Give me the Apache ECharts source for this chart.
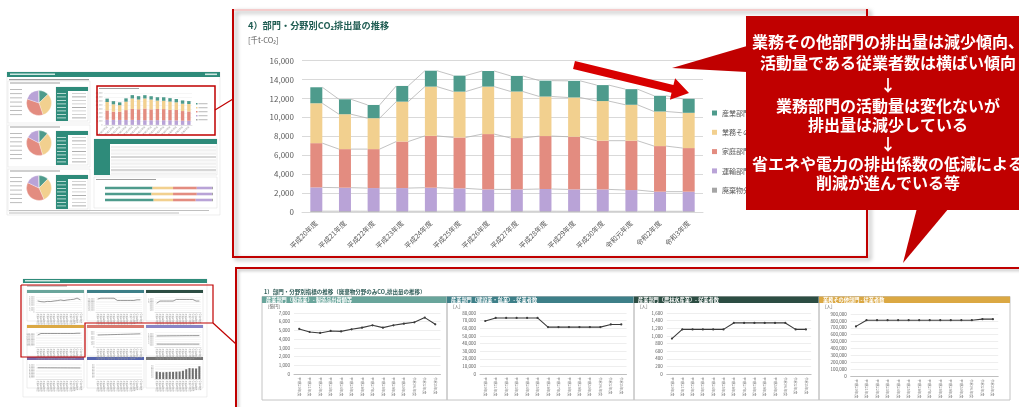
<!DOCTYPE html>
<html lang="ja">
<head>
<meta charset="utf-8">
<title>部門・分野別CO₂排出量の推移</title>
<script src="https://cdn.jsdelivr.net/npm/echarts@6.0.0/dist/echarts.min.js"></script>
<style>
html,body{margin:0;padding:0;background:#fff;}
#chart{width:1019px;height:407px;}
</style>
</head>
<body>
<div id="chart"></div>
<script>
const FONT = '"Noto Sans CJK JP", "Noto Sans", sans-serif';

const fiscalYears = ['平成20年度','平成21年度','平成22年度','平成23年度','平成24年度','平成25年度','平成26年度',
  '平成27年度','平成28年度','平成29年度','平成30年度','令和元年度','令和2年度','令和3年度'];

// CO2 emissions by sector [千t-CO2]
const wasteCO2       = [85, 85, 80, 80, 80, 80, 80, 80, 80, 75, 75, 75, 75, 75];
const transportCO2   = [2515, 2485, 2450, 2450, 2490, 2420, 2310, 2310, 2350, 2315, 2315, 2245, 2075, 2075];
const residentialCO2 = [4680, 4080, 4120, 4920, 5480, 5380, 5850, 5430, 5600, 5570, 5150, 5220, 4820, 4610];
const commercialCO2  = [4220, 3690, 3270, 4220, 5210, 4850, 5020, 4920, 4180, 4150, 4190, 3800, 3660, 3730];
const industrialCO2  = [1690, 1580, 1400, 1660, 1680, 1690, 1650, 1650, 1680, 1760, 1690, 1650, 1660, 1480];
const legendOrder = ['産業部門', '業務その他部門', '家庭部門', '運輸部門', '廃棄物分野'];

// activity indicators
const manufacturingShipments = [5170, 4820, 4710, 4940, 4890, 5130, 5320, 5590, 5320, 5590, 5780, 5930, 6470, 5700]; // 億円
const constructionWorkers = [69500, 73500, 73500, 73500, 73500, 73500, 61500, 61500, 61500, 61500, 61500, 61500, 65000, 65000];
const agricultureWorkers  = [930, 1170, 1170, 1170, 1170, 1170, 1340, 1340, 1340, 1340, 1340, 1340, 1170, 1170];
const commercialWorkers   = [720000, 810000, 810000, 810000, 810000, 810000, 810000, 810000, 810000, 810000, 810000, 810000, 825000, 825000];
const households      = [480, 483, 487, 490, 494, 497, 501, 505, 509, 512, 516, 520, 524, 528];
const passengerCars   = [2950, 2960, 2970, 2980, 2990, 3000, 3000, 3010, 3020, 3030, 3030, 3040, 3040, 3050];
const freightVehicles = [780, 770, 760, 760, 760, 760, 760, 760, 760, 765, 765, 765, 760, 760];
const railPassengers  = [7500, 7500, 7480, 7470, 7460, 7450, 7440, 7430, 7420, 7410, 7400, 7390, 7380, 7370];
const wasteIndicator  = [39, 37, 36, 37, 38, 38, 39, 40, 44, 52, 58, 57, 56, 68];

// sector composition rows [%]
const shareRowLabels    = ['平成20年度', '平成25年度', '令和3年度'];
const shareIndustrial   = [44, 43, 45];
const shareCommercial   = [19, 20, 18];
const shareResidential  = [22, 22, 21];
const shareTransport    = [14, 14, 15];
const shareWaste        = [1, 1, 1];
const pieYearIndex      = [0, 5, 13];

const fmt = v => v.toLocaleString('en-US');

const sectors = [
  { name: '廃棄物分野',     data: wasteCO2,       color: '#a5a5a5' },
  { name: '運輸部門',       data: transportCO2,   color: '#b9a3d7' },
  { name: '家庭部門',       data: residentialCO2, color: '#e38c80' },
  { name: '業務その他部門', data: commercialCO2,  color: '#f2d08f' },
  { name: '産業部門',       data: industrialCO2,  color: '#4e9b8c' }
];

const grids = [], xAxes = [], yAxes = [], series = [], decor = [];

function addGrid(grid, xAxis, yAxis) {
  const gi = grids.length;
  grids.push(Object.assign({ containLabel: false, outerBoundsMode: 'none' }, grid));
  xAxes.push(Object.assign({ gridIndex: gi }, xAxis));
  yAxes.push(Object.assign({ gridIndex: gi }, yAxis));
  return gi;
}
const rect = (x, y, w, h, style, z = 0) =>
  decor.push({ type: 'rect', shape: { x, y, width: w, height: h }, style, z, silent: true });
const text = (x, y, t, style, z = 1) =>
  decor.push({ type: 'text', x, y, style: Object.assign({ text: t, fontFamily: FONT, align: 'left', verticalAlign: 'middle' }, style), z, silent: true });
const poly = (points, style, z = 0) =>
  decor.push({ type: 'polygon', shape: { points }, style, z, silent: true });
const pline = (points, style, z = 0) =>
  decor.push({ type: 'polyline', shape: { points }, style, z, silent: true });

/* ---------- main stacked bar chart ---------- */
const gMain = addGrid(
  { left: 302, top: 60.7, width: 401, height: 151.3 },
  { type: 'category', data: fiscalYears,
    axisLine: { lineStyle: { color: '#d9d9d9' } }, axisTick: { show: false },
    axisLabel: { interval: 0, rotate: 45, fontSize: 7, color: '#595959', margin: 10, fontFamily: FONT } },
  { type: 'value', min: 0, max: 16000, interval: 2000,
    axisLine: { show: false }, axisTick: { show: false },
    splitLine: { lineStyle: { color: '#d9d9d9' } },
    axisLabel: { fontSize: 8, color: '#595959', margin: 8, formatter: fmt } }
);
sectors.forEach(s => series.push({
  type: 'bar', name: s.name, stack: 'co2', data: s.data, barWidth: 12,
  itemStyle: { color: s.color }, xAxisIndex: gMain, yAxisIndex: gMain, silent: true
}));

// series lines joining the top of each segment between neighbouring bars
function seriesLine(params, api) {
  const i = api.value(0);
  const a = api.coord([i, api.value(1)]);
  const b = api.coord([i + 1, api.value(2)]);
  const half = api.size([1, 0])[0] * 0.21;
  return { type: 'line', shape: { x1: a[0] + half, y1: a[1], x2: b[0] - half, y2: b[1] },
           style: { stroke: '#b3b3b3', lineWidth: 0.8 } };
}
let running = fiscalYears.map(() => 0);
sectors.forEach(s => {
  running = running.map((v, i) => v + s.data[i]);
  const tops = running.slice();
  const segs = tops.slice(0, -1).map((v, i) => [i, v, tops[i + 1]]);
  series.push({ type: 'custom', name: 'series-line', renderItem: seriesLine, data: segs,
    encode: { x: 0, y: [1, 2] }, xAxisIndex: gMain, yAxisIndex: gMain, silent: true, z: 3 });
});

/* ---------- activity indicator panels ---------- */
const panelDefs = [
  { title: '産業部門（製造業）- 製造品出荷額等', unit: '[億円]', data: manufacturingShipments, max: 7000, step: 1000, head: '#69a59b', box: [262, 447], plot: [294, 146.5], top: 313, h: 61 },
  { title: '産業部門（建設業・鉱業）- 従業者数', unit: '[人]', data: constructionWorkers, max: 80000, step: 10000, head: '#3d7f88', box: [447, 634], plot: [480, 146.5], top: 313, h: 61 },
  { title: '産業部門（農林水産業）- 従業者数', unit: '[人]', data: agricultureWorkers, max: 1600, step: 200, head: '#2c4d43', box: [634, 819], plot: [666.8, 144.3], top: 313, h: 61 },
  { title: '業務その他部門 - 従業者数', unit: '[人]', data: commercialWorkers, max: 900000, step: 100000, head: '#dba843', box: [819, 1010], plot: [850.7, 147.5], top: 314, h: 62 }
];
panelDefs.forEach(p => {
  const w = p.box[1] - p.box[0];
  rect(p.box[0], 296.5, w, 103.5, { fill: 'none', stroke: '#c4c4c4', lineWidth: 1 });
  rect(p.box[0], 296.5, w, 6.5, { fill: p.head });
  text(p.box[0] + 4, 299.8, p.title, { fill: '#fff', fontSize: 5.2, fontWeight: 'bold' });
  text(p.box[0] + 6, 306.5, p.unit, { fill: '#595959', fontSize: 4.5 });
  const gi = addGrid(
    { left: p.plot[0], top: p.top, width: p.plot[1], height: p.h },
    { type: 'category', data: fiscalYears, axisLine: { lineStyle: { color: '#bfbfbf' } }, axisTick: { show: false },
      axisLabel: { interval: 0, rotate: -90, fontSize: 3.8, color: '#7f7f7f', margin: 3 } },
    { type: 'value', min: 0, max: p.max, interval: p.step, axisLine: { show: false }, axisTick: { show: false },
      splitLine: { lineStyle: { color: '#e3e3e3', width: 0.6 } },
      axisLabel: { fontSize: 4.5, color: '#595959', margin: 4, formatter: fmt } }
  );
  series.push({ type: 'line', data: p.data, xAxisIndex: gi, yAxisIndex: gi, symbol: 'circle', symbolSize: 2.2,
    lineStyle: { color: '#3b3b3b', width: 1.1 }, itemStyle: { color: '#3b3b3b' }, silent: true });
});
text(264, 292, '1）部門・分野別指標の推移（廃棄物分野のみCO₂排出量の推移）', { fill: '#2d5a55', fontSize: 5.5, fontWeight: 'bold' });

/* ---------- overview page: emissions sheet ---------- */
const TEAL = '#2e8b7a';
rect(7, 72, 213, 143, { fill: 'none', stroke: '#e2e2e2', lineWidth: 0.6 });
rect(7, 72, 213, 5, { fill: TEAL });
rect(10, 73.5, 45, 1.6, { fill: '#cfe8e2' });
rect(205, 73.5, 12, 1.6, { fill: '#cfe8e2' });
rect(9, 79, 80, 1.2, { fill: '#9a9a9a' });
[81, 125, 169].forEach((y, k) => {
  rect(8, y, 82, 42, { fill: 'none', stroke: '#dddddd', lineWidth: 0.5 });
  rect(10, y + 1.5, 50, 1.1, { fill: '#a0a0a0' });
  for (let r = 0; r < 7; r++) rect(10, y + 8 + r * 4.2, 12, 0.9, { fill: '#b5b5b5' });
  // small table next to each pie
  const ty = y + 6;
  rect(56, ty, 32, 34, { fill: '#ffffff', stroke: '#cfcfcf', lineWidth: 0.4 });
  rect(56, ty, 32, 4, { fill: TEAL });
  rect(56, ty, 12, 34, { fill: TEAL });
  for (let r = 0; r < 8; r++) {
    rect(57, ty + 6 + r * 3.5, 9, 0.8, { fill: '#d8ede8' });
    rect(72, ty + 6 + r * 3.5, 14, 0.8, { fill: r % 3 === 1 ? '#9a9a9a' : '#c8c8c8' });
  }
});
// mini stacked chart
const gThumbBars = addGrid(
  { left: 104, top: 93, width: 88, height: 32 },
  { type: 'category', data: fiscalYears, axisLine: { lineStyle: { color: '#d0d0d0', width: 0.5 } }, axisTick: { show: false },
    axisLabel: { interval: 0, rotate: 45, fontSize: 2.3, color: '#999', margin: 1.5 } },
  { type: 'value', min: 0, max: 16000, interval: 2000, axisLine: { show: false }, axisTick: { show: false },
    splitLine: { lineStyle: { color: '#ececec', width: 0.5 } },
    axisLabel: { fontSize: 2.3, color: '#aaa', margin: 1.5, formatter: fmt } }
);
sectors.forEach(s => series.push({ type: 'bar', name: s.name, stack: 'thumb', data: s.data, barWidth: 3.4,
  itemStyle: { color: s.color }, xAxisIndex: gThumbBars, yAxisIndex: gThumbBars, silent: true }));
sectors.slice().reverse().forEach((s, k) => {
  rect(196, 103 + k * 4, 1.5, 1.5, { fill: s.color });
  rect(198.5, 103.3 + k * 4, 9, 0.9, { fill: '#b0b0b0' });
});
rect(99, 88, 40, 1.1, { fill: '#a0a0a0' });
// pies
const pieCenters = [[39, 103], [39, 143], [39, 188]];
pieYearIndex.forEach((yi, k) => series.push({
  type: 'pie', center: pieCenters[k], radius: 12.5, startAngle: 90, silent: true,
  label: { show: false }, labelLine: { show: false },
  itemStyle: { borderColor: '#fff', borderWidth: 0.3 },
  data: sectors.slice().reverse().map(s => ({ name: s.name, value: s.data[yi], itemStyle: { color: s.color } }))
}));
// data table
rect(94, 139, 123, 36, { fill: '#fff', stroke: '#cfcfcf', lineWidth: 0.4 });
rect(94, 139, 123, 5, { fill: TEAL });
rect(94, 139, 16, 36, { fill: TEAL });
for (let r = 0; r < 9; r++) {
  rect(111, 146 + r * 3.3, 105, 2.2, { fill: r % 4 === 3 ? '#d6d6d6' : '#f1f1f1' });
}
// composition rows
rect(94, 177, 123, 31, { fill: 'none', stroke: '#dddddd', lineWidth: 0.5 });
rect(96, 179, 60, 1.1, { fill: '#a0a0a0' });
const gShare = addGrid(
  { left: 105, top: 185, width: 108, height: 18 },
  { type: 'value', min: 0, max: 100, show: false },
  { type: 'category', data: shareRowLabels, inverse: true, show: false }
);
const shareCols = ['#4e9b8c', '#f2d08f', '#e38c80', '#b9a3d7', '#a5a5a5'];
[shareIndustrial, shareCommercial, shareResidential, shareTransport, shareWaste].forEach((arr, k) =>
  series.push({ type: 'bar', stack: 'share', data: arr, barWidth: 2.6, itemStyle: { color: shareCols[k] },
    xAxisIndex: gShare, yAxisIndex: gShare, silent: true }));
rect(9, 210, 200, 0.9, { fill: '#c0c0c0' });
rect(9, 212.5, 170, 0.9, { fill: '#c0c0c0' });
// highlight frame and connector
rect(97, 86, 118, 49, { fill: 'none', stroke: '#c00000', lineWidth: 1.5 }, 50);
pline([[215, 110], [233, 99]], { stroke: '#c00000', lineWidth: 1.2 }, 50);

/* ---------- overview page: indicator sheet ---------- */
rect(23, 279, 184, 118, { fill: 'none', stroke: '#e2e2e2', lineWidth: 0.6 });
rect(23, 279, 184, 4, { fill: TEAL });
rect(25, 280, 35, 1.4, { fill: '#cfe8e2' });
rect(27, 285.5, 40, 1, { fill: '#a0a0a0' });
const miniCols = [27, 87, 146], miniRows = [290, 325, 357];
const miniDefs = [
  { lines: [manufacturingShipments], max: 7000, step: 1000, head: '#69a59b' },
  { lines: [constructionWorkers], max: 80000, step: 10000, head: '#3d7f88' },
  { lines: [agricultureWorkers], max: 1600, step: 200, head: '#2c4d43' },
  { lines: [commercialWorkers], max: 900000, step: 100000, head: '#dba843' },
  { lines: [households], max: 600, step: 100, head: '#d8776d' },
  { lines: [passengerCars, freightVehicles], max: 4000, step: 500, head: '#8884c6' },
  { lines: [railPassengers], max: 10000, step: 1000, head: '#7a66a6' },
  { lines: [], max: 100, step: 10, head: '#5565ae' },
  { bars: wasteIndicator, max: 80, step: 10, head: '#737373' }
];
miniDefs.forEach((d, k) => {
  const x = miniCols[k % 3], y = miniRows[Math.floor(k / 3)];
  rect(x, y, 57, 31, { fill: 'none', stroke: '#d8d8d8', lineWidth: 0.5 });
  rect(x, y, 57, 3, { fill: d.head });
  const gi = addGrid(
    { left: x + 9, top: y + 7, width: 46, height: 15 },
    { type: 'category', data: fiscalYears, axisLine: { lineStyle: { color: '#cccccc', width: 0.5 } }, axisTick: { show: false },
      axisLabel: { interval: 0, rotate: -90, fontSize: 2.2, color: '#999', margin: 1.5 } },
    { type: 'value', min: 0, max: d.max, interval: d.step, axisLine: { show: false }, axisTick: { show: false },
      splitLine: { lineStyle: { color: '#eeeeee', width: 0.5 } },
      axisLabel: { fontSize: 2.2, color: '#aaa', margin: 1.5, formatter: fmt } }
  );
  (d.lines || []).forEach(arr => series.push({ type: 'line', data: arr, xAxisIndex: gi, yAxisIndex: gi,
    symbol: 'none', lineStyle: { color: '#555', width: 0.6 }, silent: true }));
  if (d.bars) series.push({ type: 'bar', data: d.bars, xAxisIndex: gi, yAxisIndex: gi, barWidth: 2,
    itemStyle: { color: '#6f6f6f' }, silent: true });
});
pline([[21, 285], [213, 285], [213, 323], [85, 323], [85, 357], [21, 357], [21, 285]],
  { stroke: '#c00000', lineWidth: 1.2, fill: 'none' }, 50);
pline([[213, 323], [236, 344]], { stroke: '#c00000', lineWidth: 1.2 }, 50);

/* ---------- frames ---------- */
rect(233, 10, 634, 247, { fill: 'none', stroke: '#c00000', lineWidth: 2,
  shadowBlur: 4, shadowColor: 'rgba(0,0,0,0.35)', shadowOffsetX: 3, shadowOffsetY: 2 }, 0);
pline([[234, 10], [866, 10]], { stroke: '#f4cccc', lineWidth: 2 }, 1);
rect(236, 268, 800, 160, { fill: 'none', stroke: '#c00000', lineWidth: 2,
  shadowBlur: 3, shadowColor: 'rgba(0,0,0,0.25)', shadowOffsetX: 2, shadowOffsetY: 2 }, 0);
text(248, 25.5, '4）部門・分野別CO₂排出量の推移', { fill: '#1f5c52', fontSize: 9.2, fontWeight: 'bold' });
text(248, 40, '[千t-CO₂]', { fill: '#595959', fontSize: 7.5 });

/* ---------- callout ---------- */
const RED = '#c00000';
rect(746, 16, 290, 194, { fill: RED }, 100);
poly([[747, 46], [672, 68], [747, 72]], { fill: RED }, 100);
poly([[917, 208], [903, 263], [949, 208]], { fill: RED }, 100);
function arrowPoints(x0, y0, x1, y1, shaftHalf, headHalf, headLen) {
  const dx = x1 - x0, dy = y1 - y0, L = Math.hypot(dx, dy);
  const ux = dx / L, uy = dy / L, nx = -uy, ny = ux;
  const bx = x1 - ux * headLen, by = y1 - uy * headLen;
  return [[x0 + nx * shaftHalf, y0 + ny * shaftHalf], [bx + nx * shaftHalf, by + ny * shaftHalf],
          [bx + nx * headHalf, by + ny * headHalf], [x1, y1], [bx - nx * headHalf, by - ny * headHalf],
          [bx - nx * shaftHalf, by - ny * shaftHalf], [x0 - nx * shaftHalf, y0 - ny * shaftHalf]];
}
poly(arrowPoints(574, 65, 689, 93, 4, 11, 17), { fill: '#d80000' }, 100);
const calloutLines = [
  ['業務その他部門の排出量は減少傾向、', 42],
  ['活動量である従業者数は横ばい傾向', 63],
  ['↓', 85],
  ['業務部門の活動量は変化ないが', 106],
  ['排出量は減少している', 125],
  ['↓', 144],
  ['省エネや電力の排出係数の低減による', 164],
  ['削減が進んでいる等', 183]
];
calloutLines.forEach(([t, y]) =>
  text(888, y, t, { fill: '#ffffff', fontSize: 16, fontWeight: 'bold', align: 'center' }, 101));

/* ---------- render ---------- */
const chart = echarts.init(document.getElementById('chart'), null, { renderer: 'canvas' });
chart.setOption({
  animation: false,
  backgroundColor: '#ffffff',
  textStyle: { fontFamily: FONT },
  grid: grids,
  xAxis: xAxes,
  yAxis: yAxes,
  legend: {
    data: legendOrder, orient: 'vertical', left: 707, top: 103, icon: 'rect',
    itemWidth: 5, itemHeight: 5, itemGap: 9.3, selectedMode: false,
    textStyle: { fontSize: 7, color: '#595959', lineHeight: 10, fontFamily: FONT }
  },
  series,
  graphic: { elements: decor }
});
</script>
</body>
</html>
